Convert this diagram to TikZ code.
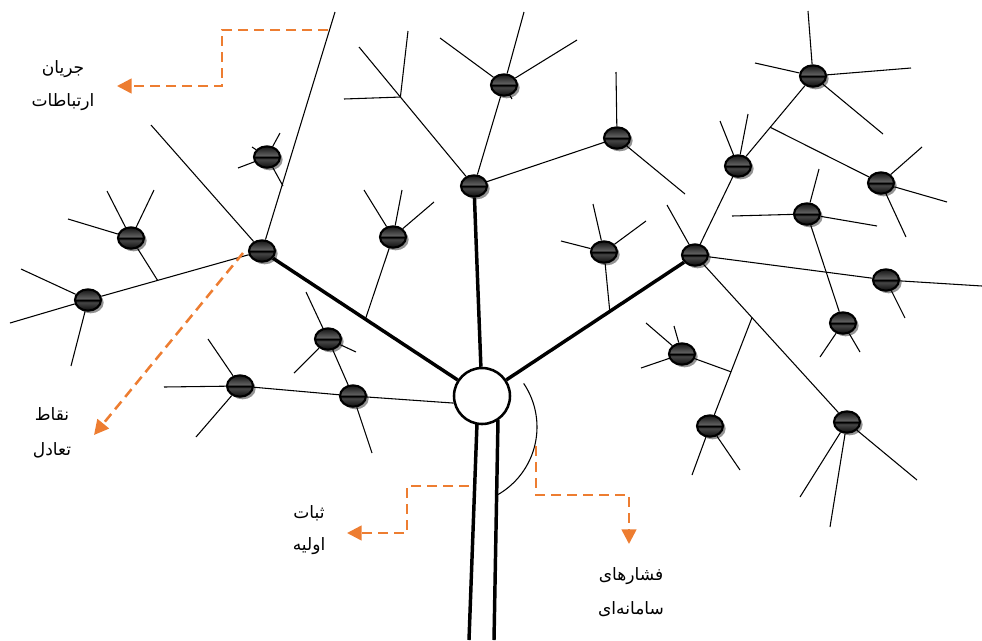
\documentclass[tikz,border=0pt]{standalone}
\usepackage{fontspec}
\usepackage{tikz}
\usetikzlibrary{shapes.geometric,shadows,arrows.meta,calc}
\newfontfamily\arabicfont[Script=Arabic]{DejaVu Sans}
\TeXXeTstate=1
\definecolor{accent}{HTML}{ED7D31}
\pgfdeclareverticalshading{knobshade}{100bp}{color(0bp)=(black!95); color(25bp)=(black!95); color(45bp)=(black!72); color(49bp)=(black); color(51bp)=(black); color(53bp)=(black!62); color(75bp)=(black!92); color(100bp)=(black!92)}
\begin{document}
\begin{tikzpicture}[x=0.75pt,y=-0.75pt,
  twig/.style={line width=0.8pt,black},
  bough/.style={line width=2.6pt,black},
  knob/.style={ellipse,draw=black,line width=1.6pt,minimum width=19.5pt,minimum height=16pt,inner sep=0pt,shading=knobshade,
    drop shadow={shadow xshift=2pt,shadow yshift=-2pt,fill=black!42,opacity=1}},
  hubst/.style={circle,draw=black,line width=1.9pt,fill=white,minimum size=42pt,inner sep=0pt},
  pointer/.style={accent,line width=1.9pt,dash pattern=on 7.5pt off 4.5pt,-{Triangle[length=11pt,width=11pt]}},
  plabel/.style={font=\arabicfont\fontsize{12.8}{15}\selectfont,inner sep=0pt,text=black}]
\useasboundingbox (0,0) rectangle (982,640);

% hub and nodes
\node[hubst] (hub) at (482,396) {};
\node[knob] (n1) at (262,251) {};
\node[knob] (n2) at (474,186) {};
\node[knob] (n3) at (695,255) {};
\node[knob] (n4) at (267,157) {};
\node[knob] (n5) at (131,238) {};
\node[knob] (n6) at (88,300) {};
\node[knob] (n7) at (393,237) {};
\node[knob] (n8) at (328,339) {};
\node[knob] (n9) at (353,396) {};
\node[knob] (n10) at (240,386) {};
\node[knob] (n11) at (504,85) {};
\node[knob] (n12) at (617,138) {};
\node[knob] (n13) at (604,252) {};
\node[knob] (n14) at (682,354) {};
\node[knob] (n15) at (710,426) {};
\node[knob] (n16) at (847,422) {};
\node[knob] (n17) at (843,323) {};
\node[knob] (n18) at (886,280) {};
\node[knob] (n19) at (807,214) {};
\node[knob] (n20) at (881,183) {};
\node[knob] (n21) at (738,166) {};
\node[knob] (n22) at (813,76) {};

% free ends
\coordinate (e1a) at (151,125);
\coordinate (e1b) at (335,12);
\coordinate (e6a) at (10,323);
\coordinate (e6b) at (21,269);
\coordinate (e6c) at (71,366);
\coordinate (e5a) at (68,219);
\coordinate (e5b) at (107,191);
\coordinate (e5c) at (154,190);
\coordinate (e4a) at (280,133);
\coordinate (e4b) at (238,168);
\coordinate (e4c) at (283,186);
\coordinate (e4d) at (252,147);
\coordinate (e7a) at (364,190);
\coordinate (e7b) at (402,190);
\coordinate (e7c) at (434,202);
\coordinate (e8a) at (306,292);
\coordinate (e8b) at (294,373);
\coordinate (e8c) at (356,352);
\coordinate (e9a) at (372,453);
\coordinate (e10a) at (164,387);
\coordinate (e10b) at (208,339);
\coordinate (e10c) at (196,437);
\coordinate (e11a) at (440,38);
\coordinate (e11b) at (524,12);
\coordinate (e11c) at (577,40);
\coordinate (e11d) at (512,99);
\coordinate (e12a) at (616,72);
\coordinate (e12b) at (685,194);
\coordinate (e2a) at (359,47);
\coordinate (e2b) at (344,99);
\coordinate (e2c) at (408,31);
\coordinate (e13a) at (593,204);
\coordinate (e13b) at (561,241);
\coordinate (e13c) at (646,221);
\coordinate (e3a) at (667,205);
\coordinate (e21a) at (720,121);
\coordinate (e21b) at (748,114);
\coordinate (e22a) at (808,11);
\coordinate (e22b) at (755,63);
\coordinate (e22c) at (911,68);
\coordinate (e22d) at (883,134);
\coordinate (e20a) at (922,147);
\coordinate (e20b) at (947,202);
\coordinate (e20c) at (906,237);
\coordinate (e19a) at (819,169);
\coordinate (e19b) at (732,216);
\coordinate (e19c) at (877,226);
\coordinate (e17a) at (820,357);
\coordinate (e17b) at (860,352);
\coordinate (e18a) at (982,286);
\coordinate (e18b) at (905,318);
\coordinate (e16a) at (917,480);
\coordinate (e16b) at (800,497);
\coordinate (e16c) at (830,527);
\coordinate (e15a) at (692,475);
\coordinate (e15b) at (740,470);
\coordinate (e14a) at (646,323);
\coordinate (e14b) at (674,326);
\coordinate (e14c) at (641,368);

% branch points on lines
\coordinate (b5) at ($(n1)!0.6!(n6)$);
\coordinate (b7) at ($(n1)!0.47!(hub)$);
\coordinate (b2) at ($(n2)!0.64!(e2a)$);
\coordinate (b13) at ($(hub)!0.6!(n3)$);
\coordinate (b20) at ($(n21)!0.43!(n22)$);
\coordinate (b15) at ($(n3)!0.375!(n16)$);
\coordinate (b14) at ($(b15)!0.5!(n15)$);

% thick main limbs and trunk
\draw[bough] (n1) -- (hub);
\draw[bough] (n2) -- (hub);
\draw[bough] (n3) -- (hub);
\coordinate (t1) at (477,423);
\coordinate (t2) at (469,640);
\coordinate (t3) at (498,420);
\coordinate (t4) at (494,640);
\draw[bough] (t1) -- (t2);
\draw[bough] (t3) -- (t4);
\draw[twig] plot[domain=-34:60,samples=40] ({459+78*cos(\x)},{427+78*sin(\x)});

% left limb
\draw[twig] (n1) -- (e1a);
\draw[twig] (n1) -- (e1b);
\draw[twig] (n1) -- (n6) -- (e6a);
\draw[twig] (b5) -- (n5);
\draw[twig] (n5) -- (e5a);
\draw[twig] (n5) -- (e5b);
\draw[twig] (n5) -- (e5c);
\draw[twig] (n6) -- (e6b);
\draw[twig] (n6) -- (e6c);
\draw[twig] (n4) -- (e4a);
\draw[twig] (n4) -- (e4b);
\draw[twig] (n4) -- (e4c);
\draw[twig] (n4) -- (e4d);
\draw[twig] (b7) -- (n7);
\draw[twig] (n7) -- (e7a);
\draw[twig] (n7) -- (e7b);
\draw[twig] (n7) -- (e7c);
\draw[twig] (n8) -- (e8a);
\draw[twig] (n8) -- (e8b);
\draw[twig] (n8) -- (e8c);
\draw[twig] (n8) -- (n9);
\draw[twig] (n9) -- (e9a);
\draw[twig] (e10a) -- (n10) -- (n9) -- (hub.194);
\draw[twig] (n10) -- (e10b);
\draw[twig] (n10) -- (e10c);

% centre limb
\draw[twig] (n2) -- (n11);
\draw[twig] (n11) -- (e11a);
\draw[twig] (n11) -- (e11b);
\draw[twig] (n11) -- (e11c);
\draw[twig] (n11) -- (e11d);
\draw[twig] (n2) -- (n12);
\draw[twig] (n12) -- (e12a);
\draw[twig] (n12) -- (e12b);
\draw[twig] (n2) -- (e2a);
\draw[twig] (b2) -- (e2b);
\draw[twig] (b2) -- (e2c);

% right limb
\draw[twig] (b13) -- (n13);
\draw[twig] (n13) -- (e13a);
\draw[twig] (n13) -- (e13b);
\draw[twig] (n13) -- (e13c);
\draw[twig] (n3) -- (e3a);
\draw[twig] (n3) -- (n21) -- (n22);
\draw[twig] (n21) -- (e21a);
\draw[twig] (n21) -- (e21b);
\draw[twig] (n22) -- (e22a);
\draw[twig] (n22) -- (e22b);
\draw[twig] (n22) -- (e22c);
\draw[twig] (n22) -- (e22d);
\draw[twig] (b20) -- (n20);
\draw[twig] (n20) -- (e20a);
\draw[twig] (n20) -- (e20b);
\draw[twig] (n20) -- (e20c);
\draw[twig] (n19) -- (e19a);
\draw[twig] (n19) -- (e19b);
\draw[twig] (n19) -- (e19c);
\draw[twig] (n19) -- (n17);
\draw[twig] (n17) -- (e17a);
\draw[twig] (n17) -- (e17b);
\draw[twig] (n3) -- (n18) -- (e18a);
\draw[twig] (n18) -- (e18b);
\draw[twig] (n3) -- (n16);
\draw[twig] (n16) -- (e16a);
\draw[twig] (n16) -- (e16b);
\draw[twig] (n16) -- (e16c);
\draw[twig] (b15) -- (n15) -- (e15a);
\draw[twig] (n15) -- (e15b);
\draw[twig] (n14) -- (e14a);
\draw[twig] (n14) -- (e14b);
\draw[twig] (n14) -- (e14c);
\draw[twig] (n14) -- (b14);

% orange pointers
\coordinate (p1a) at (328,30);
\coordinate (p1b) at (222,30);
\coordinate (p1c) at (222,86);
\coordinate (p1d) at (117,86);
\draw[pointer] (p1a) -- (p1b) -- (p1c) -- (p1d);
\coordinate (p2a) at (243,253);
\coordinate (p2b) at (94,435);
\draw[pointer] (p2a) -- (p2b);
\coordinate (p3a) at (469,486);
\coordinate (p3b) at (407,486);
\coordinate (p3c) at (407,533);
\coordinate (p3d) at (347,533);
\draw[pointer] (p3a) -- (p3b) -- (p3c) -- (p3d);
\coordinate (p4a) at (536,446);
\coordinate (p4b) at (536,495);
\coordinate (p4c) at (629,495);
\coordinate (p4d) at (629,544);
\draw[pointer] (p4a) -- (p4b) -- (p4c) -- (p4d);

% labels
\node[plabel] (t1a) at (63,69) {\beginR جریان\endR};
\node[plabel] (t1b) at (63,102) {\beginR ارتباطات\endR};
\node[plabel] (t2a) at (52,414) {\beginR نقاط\endR};
\node[plabel] (t2b) at (52,450) {\beginR تعادل\endR};
\node[plabel] (t3a) at (309,513) {\beginR ثبات\endR};
\node[plabel] (t3b) at (309,546) {\beginR اولیه\endR};
\node[plabel] (t4a) at (631,576) {\beginR فشارهای\endR};
\node[plabel] (t4b) at (631,609) {\beginR سامانه‌ای\endR};
\end{tikzpicture}
\end{document}
